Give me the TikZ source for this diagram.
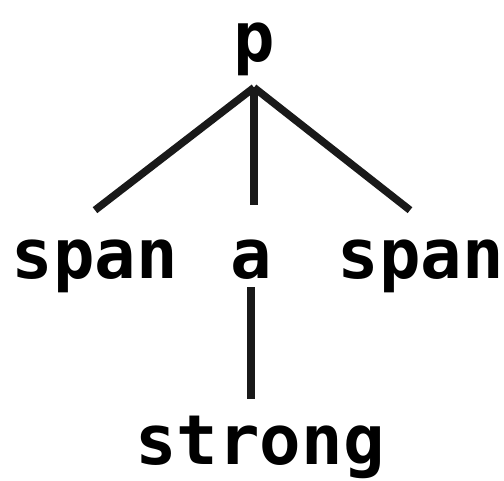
\documentclass[tikz,border=0pt]{standalone}
\usepackage{fontspec}
\usepackage{tikz}
\newfontfamily\tagfont{DejaVu Sans Mono}

\tikzset{
  tag/.style={font=\tagfont\bfseries\fontsize{69}{80}\selectfont, inner xsep=0pt, anchor=base},
  branch/.style={black!90, line width=7.5pt},
}

\begin{document}
\begin{tikzpicture}[x=1pt,y=-1pt]
\useasboundingbox (0,0) rectangle (504,480);

\node[tag, inner ysep=12pt] (p) at (254,61) {p};
\node[tag, inner ysep=29pt] (spanl) at (95,278) {span};
\node[tag, inner ysep=8pt] (a) at (251,278) {a};
\node[tag, inner ysep=29pt] (spanr) at (421,278) {span};
\node[tag, inner ysep=16pt] (strong) at (260,464) {strong};

\draw[branch] (p.south) -- (spanl.north);
\draw[branch] (p.south) -- ([yshift=5pt]p.south |- spanl.north);
\draw[branch] (p.south) -- ([xshift=-11pt]spanr.north);
\draw[branch] (a.south) -- (a.south |- strong.north);

\end{tikzpicture}
\end{document}
